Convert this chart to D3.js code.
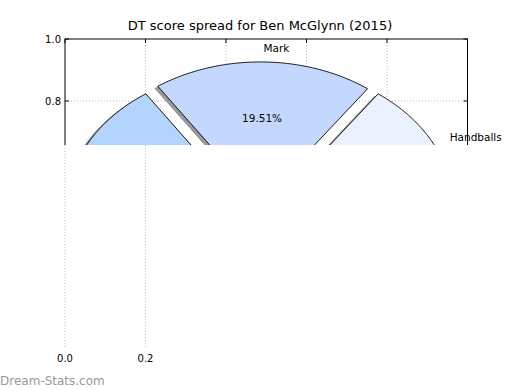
<!DOCTYPE html>
<html>
<head>
<meta charset="utf-8">
<script src="https://cdn.jsdelivr.net/npm/d3@7"></script>
<style>
  body { margin: 0; background: #fff; }
  text { font-family: "DejaVu Sans", sans-serif; }
</style>
</head>
<body>
<div id="chart"></div>
<script>
// slices, counter-clockwise from 3 o'clock (only the top of the pie survives in the picture)
var labels = ["Handballs", "Mark", "Kicks", "Tackles", "Goals", "Free kicks", "Behinds"];
var values = [15.0, 19.51, 24.9, 19.8, 15.2, 3.1, 2.49];
var colors = ["#eaf1ff", "#c4d8ff", "#b3d4ff", "#a3c6f7", "#d6e4ff", "#90b9f0", "#f2f7ff"];
var xTicks = [0, 0.2, 0.4, 0.6, 0.8, 1.0];
var yTicks = [0, 0.2, 0.4, 0.6, 0.8, 1.0];
var title = "DT score spread for Ben McGlynn (2015)";
var watermark = "Dream-Stats.com";

var width = 520, height = 390;
var cx = 0.485, cy = 0.443, r = 0.453, explode = 0.03;
var cutY = 145;  // the image is cut off below this line

var x = d3.scaleLinear().domain([0, 1]).range([65, 467.5]);
var y = d3.scaleLinear().domain([0, 1]).range([349, 39]);

var svg = d3.select("#chart").append("svg")
    .attr("width", width)
    .attr("height", height);

svg.append("defs").append("clipPath")
    .attr("id", "cut")
  .append("rect")
    .attr("x", 0).attr("y", 0)
    .attr("width", width).attr("height", cutY);

// --- lower part: only a few grid lines and tick labels remain
var low = svg.append("g");
low.selectAll(".vgrid")
    .data(xTicks.filter(function(d) { return d <= 0.2; }))
  .enter().append("line")
    .attr("x1", function(d) { return x(d); })
    .attr("x2", function(d) { return x(d); })
    .attr("y1", cutY).attr("y2", y(0))
    .attr("stroke", "#b8b8b8")
    .attr("stroke-dasharray", "1,2");

low.selectAll(".xlab")
    .data(xTicks.filter(function(d) { return d <= 0.2; }))
  .enter().append("text")
    .attr("x", function(d) { return x(d); })
    .attr("y", 361.5)
    .attr("text-anchor", "middle")
    .style("font-size", "10px")
    .text(function(d) { return d.toFixed(1); });

svg.append("text")
    .attr("x", 0)
    .attr("y", 385)
    .style("font-size", "12px")
    .style("fill", "#999")
    .text(watermark);

// --- upper part
var upper = svg.append("g").attr("clip-path", "url(#cut)");

upper.selectAll(".vg")
    .data(xTicks.slice(1, -1))
  .enter().append("line")
    .attr("x1", function(d) { return x(d); })
    .attr("x2", function(d) { return x(d); })
    .attr("y1", y(1)).attr("y2", y(0))
    .attr("stroke", "#b8b8b8")
    .attr("stroke-dasharray", "1,2");

upper.selectAll(".hg")
    .data(yTicks.slice(1, -1))
  .enter().append("line")
    .attr("x1", x(0)).attr("x2", x(1))
    .attr("y1", function(d) { return y(d); })
    .attr("y2", function(d) { return y(d); })
    .attr("stroke", "#b8b8b8")
    .attr("stroke-dasharray", "1,2");

var arcs = d3.pie().sort(null).startAngle(0).endAngle(2 * Math.PI)(values);

var line = d3.line()
    .x(function(p) { return x(p[0]); })
    .y(function(p) { return y(p[1]); });

function centre(d) {
  var m = (d.startAngle + d.endAngle) / 2;
  return [cx + explode * Math.cos(m), cy + explode * Math.sin(m), m];
}

function wedge(d) {
  var c = centre(d), pts = [[c[0], c[1]]];
  var n = Math.max(2, Math.ceil((d.endAngle - d.startAngle) / 0.01));
  for (var i = 0; i <= n; i++) {
    var a = d.startAngle + (d.endAngle - d.startAngle) * i / n;
    pts.push([c[0] + r * Math.cos(a), c[1] + r * Math.sin(a)]);
  }
  return line(pts) + "Z";
}

upper.append("g").selectAll("path")
    .data(arcs)
  .enter().append("path")
    .attr("d", wedge)
    .attr("transform", "translate(-3.5,2)")
    .attr("fill", "#999");

upper.append("g").selectAll("path")
    .data(arcs)
  .enter().append("path")
    .attr("d", wedge)
    .attr("fill", function(d, i) { return colors[i]; })
    .attr("stroke", "#000")
    .attr("stroke-width", 0.9);

upper.selectAll(".lab")
    .data(arcs)
  .enter().append("text")
    .attr("x", function(d) { var c = centre(d); return x(c[0] + 1.1 * r * Math.cos(c[2])); })
    .attr("y", function(d) { var c = centre(d); return y(c[1] + 1.1 * r * Math.sin(c[2])); })
    .attr("dy", "0.35em")
    .attr("text-anchor", function(d) { var c = centre(d); return c[0] + 1.1 * r * Math.cos(c[2]) > 0 ? "start" : "end"; })
    .style("font-size", "10.5px")
    .text(function(d, i) { return labels[i]; });

upper.selectAll(".pct")
    .data(arcs)
  .enter().append("text")
    .attr("x", function(d) { var c = centre(d); return x(c[0] + 0.6 * r * Math.cos(c[2])); })
    .attr("y", function(d) { var c = centre(d); return y(c[1] + 0.6 * r * Math.sin(c[2])); })
    .attr("dy", "0.35em")
    .attr("text-anchor", "middle")
    .style("font-size", "10.5px")
    .text(function(d) { return d.value.toFixed(2) + "%"; });

// frame and ticks
upper.append("rect")
    .attr("x", x(0)).attr("y", y(1))
    .attr("width", x(1) - x(0)).attr("height", y(0) - y(1))
    .attr("fill", "none")
    .attr("stroke", "#000")
    .attr("stroke-width", 1);

upper.selectAll(".yt")
    .data(yTicks)
  .enter().append("path")
    .attr("d", function(d) { return "M" + x(0) + "," + y(d) + "h4M" + x(1) + "," + y(d) + "h-4"; })
    .attr("stroke", "#000");

upper.selectAll(".xt")
    .data(xTicks)
  .enter().append("path")
    .attr("d", function(d) { return "M" + x(d) + "," + y(1) + "v4"; })
    .attr("stroke", "#000");

upper.selectAll(".ylab")
    .data(yTicks)
  .enter().append("text")
    .attr("x", x(0) - 4)
    .attr("y", function(d) { return y(d); })
    .attr("dy", "0.35em")
    .attr("text-anchor", "end")
    .style("font-size", "10px")
    .text(function(d) { return d.toFixed(1); });

svg.append("text")
    .attr("x", 260)
    .attr("y", 30)
    .attr("text-anchor", "middle")
    .style("font-size", "13px")
    .text(title);
</script>
</body>
</html>
